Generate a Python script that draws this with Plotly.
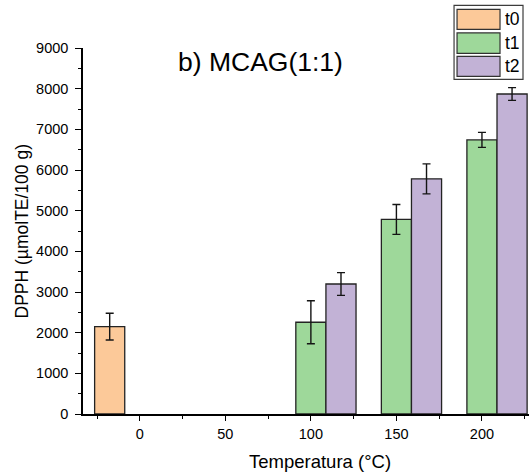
import plotly.graph_objects as go

# ---- data ----
temps_t0 = [0]
temps_t12 = [100, 150, 200]
t0_vals = [2148]
t0_err = [330]
t1_vals = [2256, 4785, 6740]
t1_err = [530, 368, 184]
t2_vals = [3197, 5782, 7869]
t2_err = [280, 368, 156]
series_names = ["t0", "t1", "t2"]
y_ticks = [0, 1000, 2000, 3000, 4000, 5000, 6000, 7000, 8000, 9000]
x_ticks = [0, 50, 100, 150, 200]

# ---- style ----
W, H = 529, 476
L, R, T, B = 82.7, 0, 47.6, 61.8
BW = 17.6
colors = ["rgb(252,201,153)", "rgb(158,216,154)", "rgb(194,178,214)"]
edge = dict(color="rgb(35,35,35)", width=1.3)
font_family = "Arial, Liberation Sans, sans-serif"

def err(arr):
    return dict(type="data", array=arr, visible=True, color="rgb(20,20,20)",
                thickness=1.4, width=4)

fig = go.Figure()
fig.add_trace(go.Bar(x=temps_t0, y=t0_vals, width=BW, offset=-1.5 * BW,
                     marker=dict(color=colors[0], line=edge), error_y=err(t0_err),
                     name=series_names[0], showlegend=False))
fig.add_trace(go.Bar(x=temps_t12, y=t1_vals, width=BW, offset=-0.5 * BW,
                     marker=dict(color=colors[1], line=edge), error_y=err(t1_err),
                     name=series_names[1], showlegend=False))
fig.add_trace(go.Bar(x=temps_t12, y=t2_vals, width=BW, offset=0.5 * BW,
                     marker=dict(color=colors[2], line=edge), error_y=err(t2_err),
                     name=series_names[2], showlegend=False))

pw = W - L - R
ph = H - T - B

def px(xp):
    return (xp - L) / pw

def py(yp):
    return (H - B - yp) / ph

# custom legend
shapes = [dict(type="rect", xref="paper", yref="paper",
               x0=px(454), x1=px(523), y0=py(79), y1=py(5),
               line=dict(color="rgb(60,60,60)", width=1.2), fillcolor="white")]
rows = [(9, 29), (32.5, 53), (56, 76)]
annotations = []
for (a, b), c, n in zip(rows, colors, series_names):
    shapes.append(dict(type="rect", xref="paper", yref="paper",
                       x0=px(457), x1=px(500), y0=py(b), y1=py(a),
                       line=dict(color="rgb(50,50,50)", width=1.2), fillcolor=c))
    annotations.append(dict(text=n, xref="paper", yref="paper", x=px(503), y=py((a + b) / 2),
                            xanchor="left", yanchor="middle", showarrow=False,
                            font=dict(size=17.5, color="black", family=font_family)))

annotations.append(dict(text="b) MCAG(1:1)", xref="paper", yref="paper",
                        x=px(260.5), y=py(62), xanchor="center", yanchor="middle",
                        showarrow=False, font=dict(size=26.5, color="black", family=font_family)))
annotations.append(dict(text="DPPH (µmolTE/100 g)", xref="paper", yref="paper",
                        x=px(22), y=py(231), xanchor="center", yanchor="middle",
                        textangle=-90, showarrow=False,
                        font=dict(size=17.5, color="black", family=font_family)))
annotations.append(dict(text="Temperatura (°C)", xref="paper", yref="paper",
                        x=px(320), y=py(462), xanchor="center", yanchor="middle",
                        showarrow=False, font=dict(size=18.5, color="black", family=font_family)))

fig.update_layout(
    width=W, height=H,
    margin=dict(l=L, r=R, t=T, b=B, pad=0),
    plot_bgcolor="white", paper_bgcolor="white",
    barmode="overlay",
    font=dict(family=font_family, size=14, color="black"),
    shapes=shapes, annotations=annotations,
    showlegend=False,
)
fig.update_xaxes(range=[-33.2, 227.5], tickvals=x_ticks, ticktext=[str(v) for v in x_ticks],
                 ticks="outside", ticklen=5, tickwidth=1.3, tickcolor="black",
                 showline=True, linecolor="black", linewidth=1.5, showgrid=False, zeroline=False,
                 ticklabelstandoff=1, tickfont=dict(size=14.5),
                 minor=dict(dtick=25, tick0=0, ticks="outside", ticklen=3, tickwidth=1.1,
                            tickcolor="black", showgrid=False))
fig.update_yaxes(range=[0, 9000], tickvals=y_ticks, ticktext=[str(v) for v in y_ticks],
                 ticks="outside", ticklen=6, tickwidth=1.3, tickcolor="black",
                 showline=True, linecolor="black", linewidth=1.5, showgrid=False, zeroline=False,
                 ticklabelstandoff=4, tickfont=dict(size=14.5),
                 minor=dict(dtick=500, tick0=0, ticks="outside", ticklen=3, tickwidth=1.1,
                            tickcolor="black", showgrid=False))

fig.write_html("out.html")
